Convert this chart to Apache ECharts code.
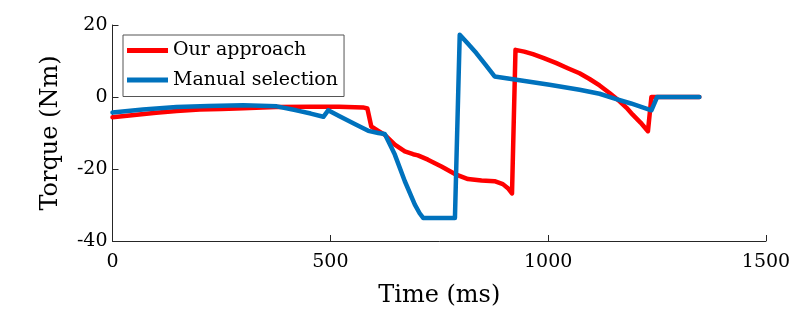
<!DOCTYPE html>
<html>
<head>
<meta charset="utf-8">
<script src="https://cdn.jsdelivr.net/npm/echarts@6/dist/echarts.min.js"></script>
<style>
html,body{margin:0;padding:0;background:#fff;}
#c{width:811px;height:316px;}
</style>
</head>
<body>
<div id="c"></div>
<script>
// Data
var ourTime = [0, 50, 100, 147, 200, 250, 300, 375, 453, 520, 575, 585, 594, 610, 625, 648, 671, 690, 701, 724, 755, 786, 816, 847, 877, 896, 909, 917, 925, 945, 965, 990, 1019, 1045, 1072, 1095, 1118, 1140, 1164, 1180, 1194, 1212, 1229, 1237, 1347];
var ourTorque = [-5.6, -5.0, -4.4, -3.9, -3.5, -3.3, -3.1, -2.8, -2.7, -2.7, -2.9, -3.2, -8.2, -9.4, -10.5, -13.2, -15.1, -15.9, -16.2, -17.4, -19.3, -21.4, -22.8, -23.2, -23.4, -24.2, -25.5, -26.8, 13.1, 12.6, 11.9, 10.8, 9.4, 8.0, 6.6, 5.0, 3.2, 1.2, -1.2, -3.0, -4.9, -7.1, -9.5, 0, 0];
var manTime = [0, 70, 147, 220, 300, 377, 422, 455, 484, 495, 520, 556, 587, 610, 625, 636, 648, 671, 694, 705, 713, 786, 797, 815, 835, 856, 877, 927, 1003, 1072, 1118, 1149, 1190, 1237, 1250, 1347];
var manTorque = [-4.3, -3.5, -2.8, -2.5, -2.3, -2.6, -3.7, -4.6, -5.5, -3.7, -5.3, -7.5, -9.4, -10.0, -10.3, -13.0, -16.0, -23.4, -29.9, -32.3, -33.6, -33.6, 17.3, 14.9, 12.2, 9.0, 5.7, 4.8, 3.4, 2.0, 0.9, -0.3, -1.8, -3.7, 0, 0];
var xTicks = [0, 500, 1000, 1500];
var yTicks = [-40, -20, 0, 20];
var seriesNames = ['Our approach', 'Manual selection'];

function pairs(xs, ys){ return xs.map(function(x,i){ return [x, ys[i]]; }); }

var FONT = 'DejaVu Serif';
var AX = '#262626';
var chart = echarts.init(document.getElementById('c'), null, {renderer:'canvas'});
chart.setOption({
  animation:false,
  backgroundColor:'#fff',
  grid:{left:112.5, right:45, top:25, bottom:75},
  legend:{
    orient:'vertical', left:123, top:35,
    data:seriesNames,
    icon:'rect', itemWidth:41, itemHeight:5, itemGap:10.5,
    padding:[6,6,7,4],
    borderColor:'#555', borderWidth:1, backgroundColor:'#fff',
    textStyle:{fontFamily:FONT, fontSize:19, color:'#000'}
  },
  xAxis:{
    type:'value', min:xTicks[0], max:xTicks[xTicks.length-1], interval:500,
    name:'Time (ms)', nameLocation:'middle', nameGap:43,
    nameTextStyle:{fontFamily:FONT, fontSize:24, color:'#000'},
    axisLine:{show:true, onZero:false, lineStyle:{color:AX, width:1}},
    axisTick:{show:true, inside:true, length:6, lineStyle:{color:AX}},
    axisLabel:{fontFamily:FONT, fontSize:19, color:'#000', margin:12, formatter:function(v){return String(v);}},
    splitLine:{show:false}
  },
  yAxis:{
    type:'value', min:yTicks[0], max:yTicks[yTicks.length-1], interval:20,
    name:'Torque (Nm)', nameLocation:'middle', nameGap:50,
    nameTextStyle:{fontFamily:FONT, fontSize:24, color:'#000'},
    axisLine:{show:true, onZero:false, lineStyle:{color:AX, width:1}},
    axisTick:{show:true, inside:true, length:6, lineStyle:{color:AX}},
    axisLabel:{fontFamily:FONT, fontSize:19, color:'#000', margin:5, formatter:function(v){return String(v);}},
    splitLine:{show:false}
  },
  series:[
    {name:seriesNames[0], type:'line', data:pairs(ourTime, ourTorque), showSymbol:false, symbol:'none',
     color:'#FF0000', lineStyle:{color:'#FF0000', width:4.5, cap:'round', join:'round'}, z:2},
    {name:seriesNames[1], type:'line', data:pairs(manTime, manTorque), showSymbol:false, symbol:'none',
     color:'#0072BD', lineStyle:{color:'#0072BD', width:4.5, cap:'round', join:'round'}, z:3}
  ]
});
</script>
</body>
</html>
